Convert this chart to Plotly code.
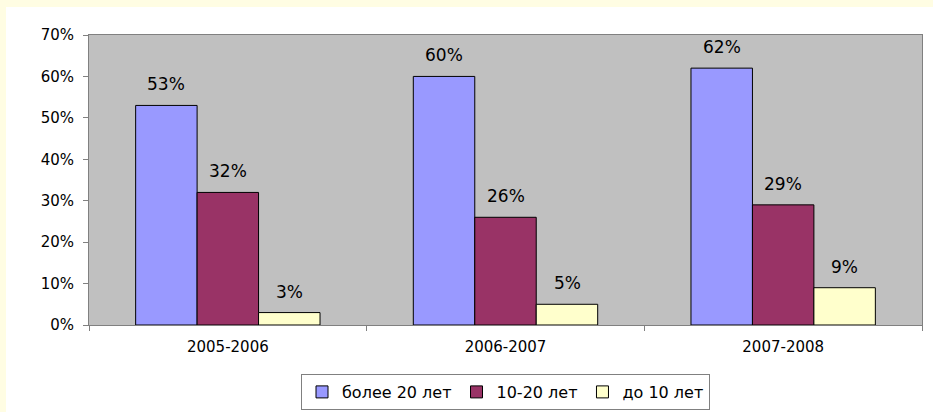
import plotly.graph_objects as go

categories = ["2005-2006", "2006-2007", "2007-2008"]
series_names = ["более 20 лет", "10-20 лет", "до 10 лет"]
values_over20 = [53, 60, 62]
values_10_20 = [32, 26, 29]
values_under10 = [3, 5, 9]
colors = ["#9999FF", "#993366", "#FFFFCC"]
y_ticks = [0, 10, 20, 30, 40, 50, 60, 70]
y_tick_labels = [f"{v}%" for v in y_ticks]

all_values = [values_over20, values_10_20, values_under10]

FONT = "DejaVu Sans"
fig = go.Figure()
for name, vals, col in zip(series_names, all_values, colors):
    fig.add_trace(go.Bar(
        x=categories, y=vals, name=name,
        marker=dict(color=col, line=dict(color="#000000", width=1)),
        textposition="none",
    ))

# value labels as annotations
bar_px = 61.5
offsets = [-bar_px, 0, bar_px]
for vals, off in zip(all_values, offsets):
    for c, v in zip(categories, vals):
        fig.add_annotation(x=c, y=v, text=f"{v}%", showarrow=False,
                           xshift=off, yshift=9, yanchor="bottom",
                           font=dict(family=FONT, size=17, color="#000000"))

W, H = 933, 412
L, R, T, B = 89, 11, 35, 87
pw, ph = W - L - R, H - T - B

def px_x(x):
    return (x - L) / pw

def px_y(y):
    return (H - B - y) / ph

YEL = "#FFFDE3"
# top strip and left strip of the slide background
fig.add_shape(type="rect", xref="paper", yref="paper",
              x0=px_x(-2), x1=px_x(W + 2), y0=px_y(7), y1=px_y(-2),
              fillcolor=YEL, line=dict(width=0), layer="below")
fig.add_shape(type="rect", xref="paper", yref="paper",
              x0=px_x(-2), x1=px_x(6), y0=px_y(H + 2), y1=px_y(-2),
              fillcolor=YEL, line=dict(width=0), layer="below")

fig.update_layout(
    width=W, height=H,
    margin=dict(l=L, r=R, t=T, b=B, autoexpand=False),
    paper_bgcolor="#FFFFFF",
    plot_bgcolor="#C0C0C0",
    barmode="group", bargap=0.336, bargroupgap=0,
    font=dict(family=FONT, size=14, color="#000000"),
    showlegend=True,
    legend=dict(orientation="h", x=0.5, xanchor="center",
                yref="container", y=1 - 374 / H, yanchor="top",
                bordercolor="#808080", borderwidth=1, bgcolor="#FFFFFF",
                font=dict(family=FONT, size=16), itemwidth=30, traceorder="normal"),
    xaxis=dict(showline=True, linecolor="#808080", mirror=True, ticks="outside",
               tickson="boundaries", ticklen=5, tickcolor="#808080",
               ticklabelstandoff=8,
               tickfont=dict(family=FONT, size=15), showgrid=False),
    yaxis=dict(range=[0, 70], tickvals=y_ticks, ticktext=y_tick_labels,
               showline=True, linecolor="#808080", mirror=True, ticks="outside",
               ticklen=5, tickcolor="#808080", showgrid=False, zeroline=False,
               ticklabelstandoff=6,
               tickfont=dict(family=FONT, size=15)),
)

fig.write_html("out.html", config={"displayModeBar": False},
               post_script="document.body.style.margin='0px';")
